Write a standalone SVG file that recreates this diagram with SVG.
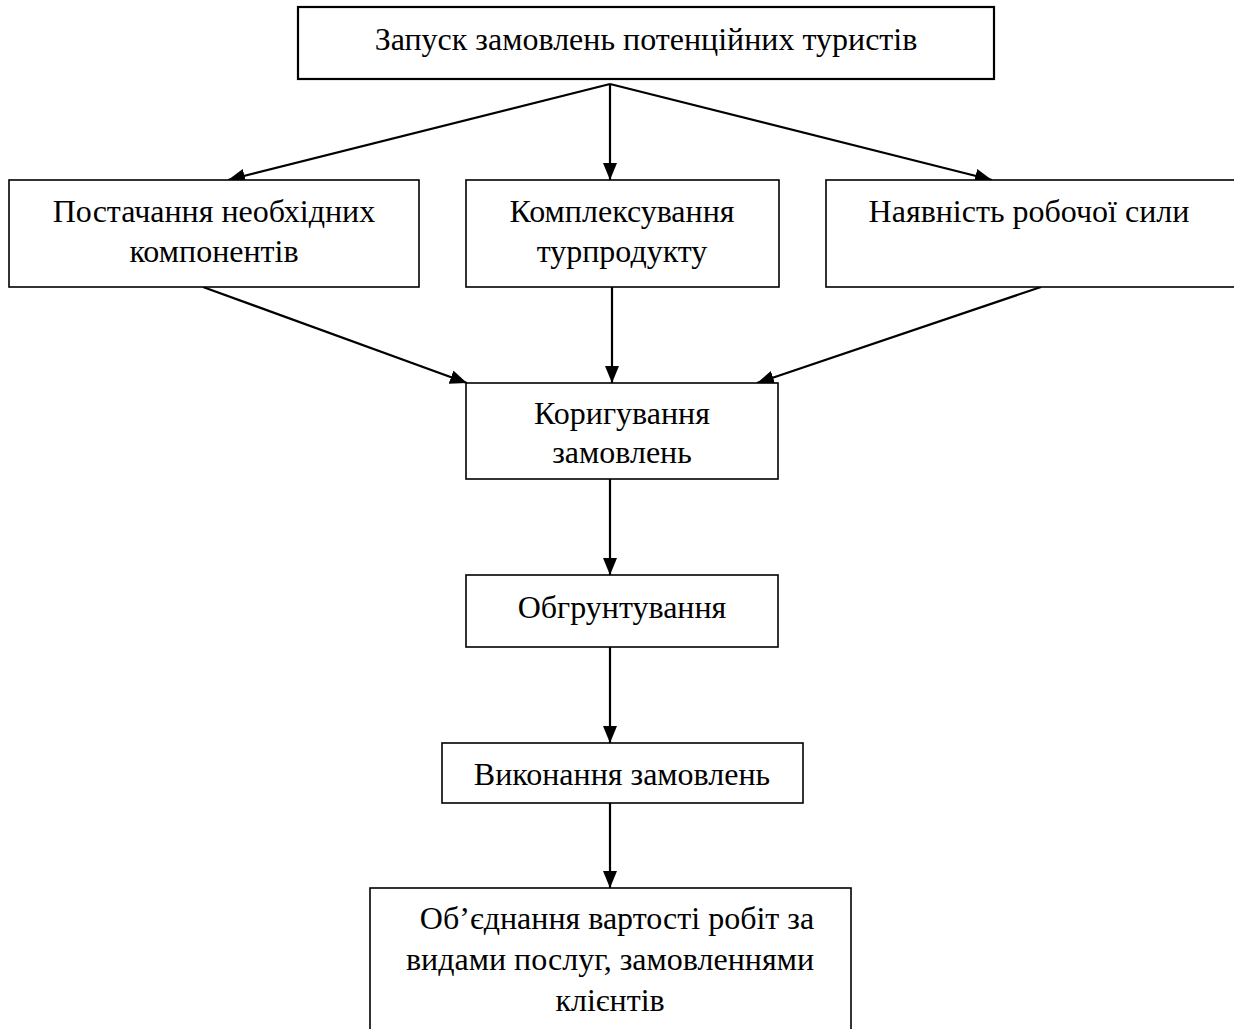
<svg xmlns="http://www.w3.org/2000/svg" width="1234" height="1029" viewBox="0 0 1234 1029">
<style>
  .box { fill: #ffffff; stroke: #000000; stroke-width: 1.6; }
  .box-thick { fill: #ffffff; stroke: #000000; stroke-width: 2.2; }
  .lbl { font-family: "Liberation Serif", "Times New Roman", serif; font-size: 32px; fill: #000000; text-anchor: middle; }
  .conn { stroke: #000000; stroke-width: 2.2; fill: none; marker-end: url(#arrow); }
</style>
<defs>
  <marker id="arrow" markerUnits="userSpaceOnUse" markerWidth="18" markerHeight="16" refX="17" refY="7" orient="auto">
    <path d="M0,0 L17,7 L0,14 Z" fill="#000000"/>
  </marker>
</defs>
<rect width="1234" height="1029" fill="#ffffff"/>

<g id="connectors">
  <line class="conn" x1="610" y1="84" x2="228" y2="180"/>
  <line class="conn" x1="610" y1="84" x2="610" y2="180"/>
  <line class="conn" x1="610" y1="84" x2="992" y2="180"/>
  <line class="conn" x1="203" y1="287" x2="467" y2="383"/>
  <line class="conn" x1="612" y1="287" x2="612" y2="383"/>
  <line class="conn" x1="1041" y1="287" x2="757" y2="383"/>
  <line class="conn" x1="610" y1="479" x2="610" y2="575"/>
  <line class="conn" x1="610" y1="647" x2="610" y2="743"/>
  <line class="conn" x1="610" y1="793" x2="610" y2="888"/>
</g>

<g id="node-launch">
  <rect class="box-thick" x="298" y="7" width="696" height="72"/>
  <text class="lbl" x="646" y="50">Запуск замовлень потенційних туристів</text>
</g>

<g id="node-supply">
  <rect class="box" x="9" y="180" width="410" height="107"/>
  <text class="lbl" x="214" y="222">Постачання необхідних</text>
  <text class="lbl" x="214" y="262">компонентів</text>
</g>

<g id="node-assembly">
  <rect class="box" x="466" y="180" width="313" height="107"/>
  <text class="lbl" x="622" y="222">Комплексування</text>
  <text class="lbl" x="622" y="262">турпродукту</text>
</g>

<g id="node-workforce">
  <rect class="box" x="826" y="180" width="412" height="107"/>
  <text class="lbl" x="1029" y="222">Наявність робочої сили</text>
</g>

<g id="node-correction">
  <rect class="box" x="466" y="383" width="312" height="96"/>
  <text class="lbl" x="622" y="424">Коригування</text>
  <text class="lbl" x="622" y="463">замовлень</text>
</g>

<g id="node-justification">
  <rect class="box" x="466" y="575" width="312" height="72"/>
  <text class="lbl" x="622" y="618">Обгрунтування</text>
</g>

<g id="node-execution">
  <rect class="box" x="442" y="743" width="361" height="60"/>
  <text class="lbl" x="622" y="785">Виконання замовлень</text>
</g>

<g id="node-merge">
  <rect class="box" x="370" y="888" width="481" height="150"/>
  <text class="lbl" x="617" y="929">Об’єднання вартості робіт за</text>
  <text class="lbl" x="610" y="970">видами послуг, замовленнями</text>
  <text class="lbl" x="610" y="1011">клієнтів</text>
</g>
</svg>
